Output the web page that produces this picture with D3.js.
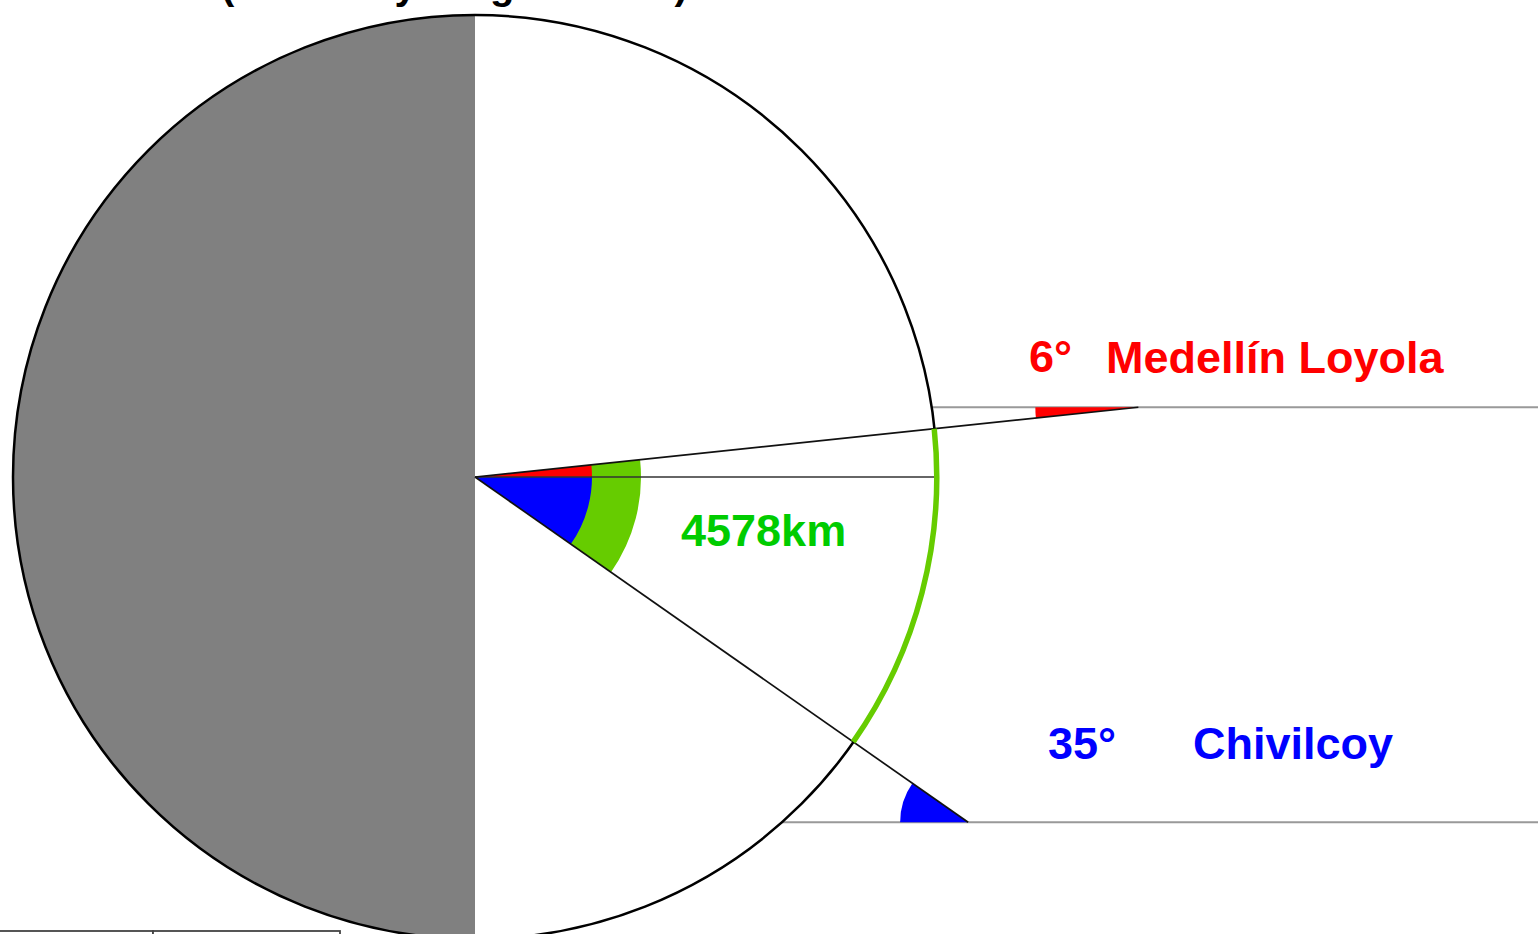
<!DOCTYPE html>
<html>
<head>
<meta charset="utf-8">
<script src="https://cdn.jsdelivr.net/npm/d3@7/dist/d3.min.js"></script>
<style>
  html, body { margin: 0; padding: 0; background: #fff; }
  svg { display: block; }
  text { font-family: "Liberation Sans", Arial, sans-serif; font-weight: bold; }
</style>
</head>
<body>
<script>
// ---- data ----
const cities = ["Medellín Loyola", "Chivilcoy"];
const sunAngles = [6, 35];             // degrees (north positive, south negative)
const angleSigns = [1, -1];
const angleLabels = ["6°", "35°"];
const cityColors = ["#ff0000", "#0000ff"];
const distanceLabel = "4578km";
const earthRadiusKm = 6371;
const titleText = "(Not everything to scale)";

// ---- layout ----
const W = 1538, H = 934;
const cx = 475, cy = 477;
const rScale = d3.scaleLinear().domain([0, earthRadiusKm]).range([0, 462]);
const R = rScale(earthRadiusKm);
const rayLen = [667, 602];
const deg = Math.PI / 180;

const svg = d3.select("body").append("svg").attr("width", W).attr("height", H);

// title (cut off at top, as in the original)
svg.append("text").attr("x", 221).attr("y", -1).attr("font-size", 40)
  .attr("fill", "#000").text(titleText);

// earth
svg.append("circle").attr("cx", cx).attr("cy", cy).attr("r", R).attr("fill", "#fff");
svg.append("path")
  .attr("transform", `translate(${cx},${cy})`)
  .attr("d", d3.arc().innerRadius(0).outerRadius(R).startAngle(Math.PI).endAngle(2 * Math.PI)())
  .attr("fill", "#808080");

// bottom-left boxes
svg.append("rect").attr("x", -2).attr("y", 931).attr("width", 155).attr("height", 20)
  .attr("fill", "#fff").attr("stroke", "#444").attr("stroke-width", 1.8);
svg.append("rect").attr("x", 153).attr("y", 931).attr("width", 187).attr("height", 20)
  .attr("fill", "#fff").attr("stroke", "#444").attr("stroke-width", 1.8);

// geometry for each city
const pts = sunAngles.map((a, i) => {
  const t = a * angleSigns[i] * deg;
  return { x: cx + rayLen[i] * Math.cos(t), y: cy - rayLen[i] * Math.sin(t), t };
});

// horizontal sun rays
pts.forEach(p => {
  const dy = p.y - cy;
  const x0 = cx + Math.sqrt(R * R - dy * dy);
  svg.append("line").attr("x1", x0).attr("y1", p.y).attr("x2", W).attr("y2", p.y)
    .attr("stroke", "#999").attr("stroke-width", 2);
});

// central wedges
const g = svg.append("g").attr("transform", `translate(${cx},${cy})`);
const toD3 = t => Math.PI / 2 - t;
const aTop = toD3(pts[0].t), aBot = toD3(pts[1].t);
g.append("path").attr("d", d3.arc().innerRadius(0).outerRadius(118)
  .startAngle(aTop).endAngle(Math.PI / 2)()).attr("fill", cityColors[0]);
g.append("path").attr("d", d3.arc().innerRadius(0).outerRadius(118)
  .startAngle(Math.PI / 2).endAngle(aBot)()).attr("fill", cityColors[1]);
g.append("path").attr("d", d3.arc().innerRadius(117).outerRadius(166)
  .startAngle(aTop).endAngle(aBot)()).attr("fill", "#66cc00");

// wedges at the ray ends
pts.forEach((p, i) => {
  let back = toD3(p.t + Math.PI);
  if (back < 0) back += 2 * Math.PI;
  const west = 1.5 * Math.PI;
  svg.append("path").attr("transform", `translate(${p.x},${p.y})`)
    .attr("d", d3.arc().innerRadius(0).outerRadius(i === 0 ? 103 : 68)
      .startAngle(Math.min(back, west)).endAngle(Math.max(back, west))())
    .attr("fill", cityColors[i]);
});

// equator line
svg.append("line").attr("x1", cx).attr("y1", cy).attr("x2", cx + R).attr("y2", cy)
  .attr("stroke", "#333").attr("stroke-width", 1.5);

// radial rays
pts.forEach(p => {
  svg.append("line").attr("x1", cx).attr("y1", cy).attr("x2", p.x).attr("y2", p.y)
    .attr("stroke", "#111").attr("stroke-width", 1.7);
});

// earth outline
svg.append("circle").attr("cx", cx).attr("cy", cy).attr("r", R)
  .attr("fill", "none").attr("stroke", "#000").attr("stroke-width", 2.5);

// green arc on surface
svg.append("path").attr("transform", `translate(${cx},${cy})`)
  .attr("d", d3.arc().innerRadius(R - 3).outerRadius(R + 2.5).startAngle(aTop).endAngle(aBot)())
  .attr("fill", "#66cc00");

// labels
const fs = 45;
svg.append("text").attr("x", 1029).attr("y", 372).attr("font-size", fs)
  .attr("fill", cityColors[0]).text(angleLabels[0]);
svg.append("text").attr("x", 1106).attr("y", 373).attr("font-size", fs)
  .attr("fill", cityColors[0]).text(cities[0]);
svg.append("text").attr("x", 1048).attr("y", 759).attr("font-size", fs)
  .attr("fill", cityColors[1]).text(angleLabels[1]);
svg.append("text").attr("x", 1193).attr("y", 759).attr("font-size", fs)
  .attr("fill", cityColors[1]).text(cities[1]);
svg.append("text").attr("x", 681).attr("y", 546).attr("font-size", fs)
  .attr("fill", "#00cc00").text(distanceLabel);
</script>
</body>
</html>
